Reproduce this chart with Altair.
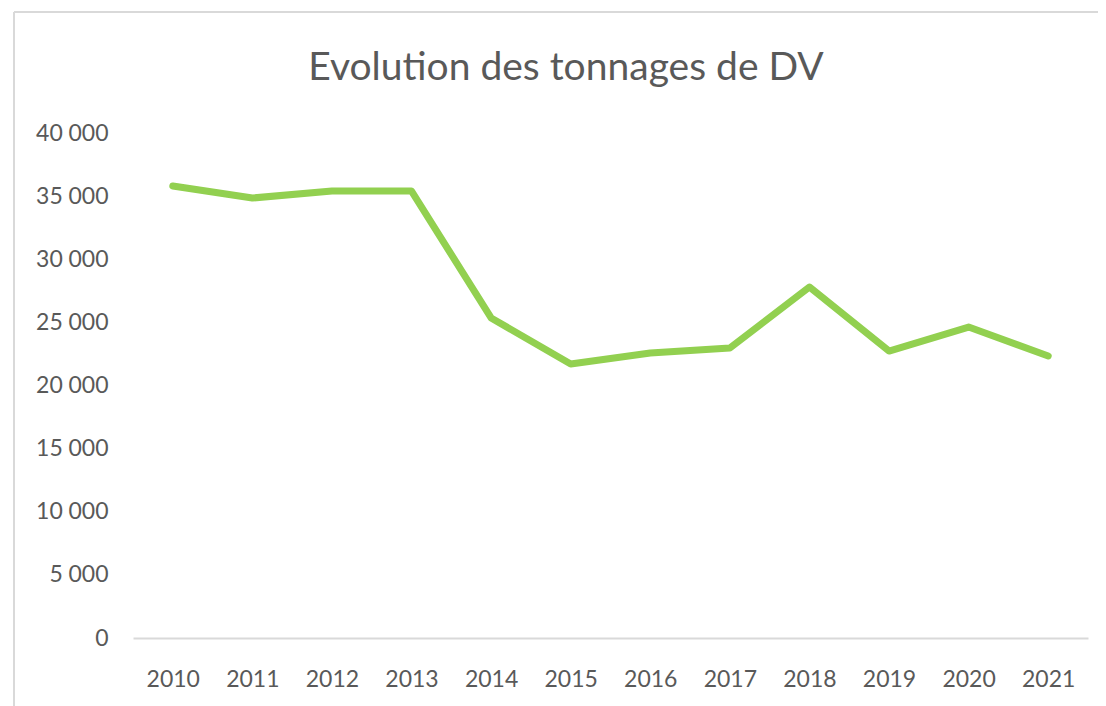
import altair as alt
import pandas as pd

years = ["2010", "2011", "2012", "2013", "2014", "2015", "2016", "2017", "2018", "2019", "2020", "2021"]
tonnages = [35800, 34850, 35400, 35400, 25350, 21700, 22570, 22970, 27800, 22730, 24630, 22340]
y_ticks = [0, 5000, 10000, 15000, 20000, 25000, 30000, 35000, 40000]
title_text = ["Evolution des tonnages de DV"]

df = pd.DataFrame({"annee": years, "tonnage": tonnages})
df_title = pd.DataFrame({"t": title_text})

W, H = 955, 505
FONT = "Lato"
GREY = "#595959"

line = alt.Chart(df).mark_line(
    color="#92D050", strokeWidth=7, strokeCap="round", strokeJoin="round"
).encode(
    x=alt.X("annee:O", sort=years,
            scale=alt.Scale(type="point", padding=0.5),
            axis=alt.Axis(title=None, labelAngle=0, ticks=False, domain=True,
                          domainColor="#d9d9d9", domainWidth=2, grid=False,
                          labelFont=FONT, labelFontSize=23, labelColor=GREY,
                          labelPadding=30)),
    y=alt.Y("tonnage:Q",
            scale=alt.Scale(domain=[0, 40000], nice=False),
            axis=alt.Axis(title=None, values=y_ticks, ticks=False, domain=False,
                          grid=False, labelFont=FONT, labelFontSize=23,
                          labelColor=GREY, labelPadding=25,
                          labelExpr="replace(format(datum.value, ','), ',', '\u202f')")),
)

frame_left = alt.Chart(df).mark_rule(color="#d9d9d9", strokeWidth=2).encode(
    x=alt.value(-119), y=alt.value(-121), y2=alt.value(H + 100)
)
frame_top = alt.Chart(df).mark_rule(color="#d9d9d9", strokeWidth=2).encode(
    x=alt.value(-119), x2=alt.value(W + 40), y=alt.value(-121)
)

title = alt.Chart(df_title).mark_text(
    font=FONT, fontSize=39, color=GREY, align="center", baseline="middle"
).encode(
    text="t:N", x=alt.value(433), y=alt.value(-65)
)

chart = alt.layer(frame_left, frame_top, title, line).properties(
    width=W,
    height=H,
    autosize=alt.AutoSizeParams(type="none"),
    padding={"left": 125, "top": 125, "right": 10, "bottom": 68},
).configure(background="white").configure_view(stroke="transparent", strokeWidth=0)

chart.save("out.html", embed_options={"renderer": "svg", "actions": False})
